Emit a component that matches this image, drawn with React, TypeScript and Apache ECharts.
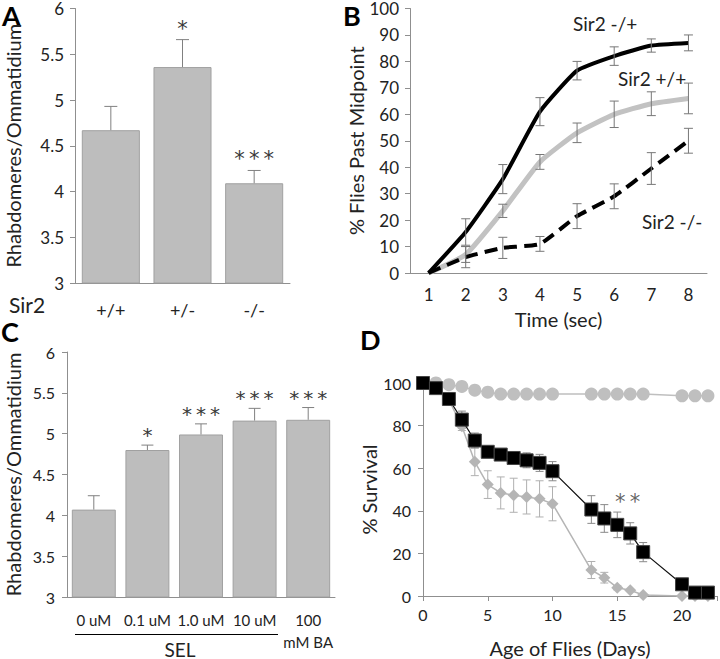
import React, { useEffect, useRef } from "react";
import * as echarts from "echarts";

const FONT = "Lato";
const STAR_FONT = "DejaVu Sans";
const TXT = "#222";
const AXC = "#8f8f8f";

// Panel A
const aCategories = ["+/+", "+/-", "-/-"];
const aValues = [4.67, 5.36, 4.09];
const aUpper = [4.93, 5.66, 4.23];
const aStars = ["", "*", "*\u2009*\u2009*"];

// Panel B
const bTimes = ["1", "2", "3", "4", "5", "6", "7", "8"];
const bHet = [0, 15.5, 35.5, 61, 76.5, 82, 86, 87];
const bHetErr = [0, 5, 5.5, 5.3, 3.5, 3.5, 2.5, 3];
const bWt = [0, 7, 23.5, 42, 53, 60, 64, 66];
const bWtErr = [0, 3, 2.5, 2.8, 3.7, 5, 4.5, 5.8];
const bNull = [0, 6, 9.5, 11, 21.5, 29, 39.5, 50];
const bNullErr = [0, 4, 4, 2.8, 4.7, 4.7, 6, 4.7];

// Panel C
const cCategories = ["0 uM", "0.1 uM", "1.0 uM", "10 uM", "100\nmM BA"];
const cValues = [4.07, 4.8, 4.99, 5.16, 5.17];
const cUpper = [4.24, 4.86, 5.12, 5.31, 5.32];
const cStars = ["", "*", "*\u2009*\u2009*", "*\u2009*\u2009*", "*\u2009*\u2009*"];

// Panel D
const dDays = [0, 1, 2, 3, 4, 5, 6, 7, 8, 9, 10, 13, 14, 15, 16, 17, 20, 21, 22];
const dCircle = [100, 100, 99.2, 98.4, 96.6, 95.7, 94.8, 94.8, 94.8, 94.8, 94.8, 94.8, 94.8, 94.8, 94.8, 94.8, 94, 94, 94];
const dSquare = [100, 97.6, 92.5, 82.8, 73, 67.7, 66.4, 64.8, 63.7, 62.5, 58.6, 40.6, 36.4, 33.4, 29.4, 20.6, 5.5, 1.6, 1.6];
const dSquareErr = [0, 0, 0, 4, 3.5, 2, 2, 3, 3.5, 4, 4.5, 6.5, 6.5, 6, 5, 4.5, 1, 0, 0];
const dDiamond = [100, 98, 92, 79.7, 63, 52.3, 48.4, 47.3, 46.5, 45.6, 43.3, 12.2, 8.6, 3.9, 2.7, 0.5, 0, 0, 0];
const dDiamondErr = [0, 0, 0, 2, 6.5, 6.5, 7.5, 8, 8, 8.5, 8, 4, 2.5, 1, 0, 0, 0, 0, 0];
const dStar = { day: 15.8, value: 44, text: "*\u2009*" };

function errSeries(
  axis: number,
  data: number[][],
  color: string,
  cap: number,
  both: boolean,
  stars: string[] | null,
  starSize: number,
  starGap: number,
  z: number
) {
  return {
    type: "custom",
    xAxisIndex: axis,
    yAxisIndex: axis,
    z,
    silent: true,
    encode: { x: 0, y: [1, 2] },
    data,
    renderItem: (params: any, api: any) => {
      const x = api.value(0);
      const lo = api.value(1);
      const hi = api.value(2);
      const top = api.coord([x, hi]);
      const bot = api.coord([x, lo]);
      const h = cap / 2;
      const children: any[] = [];
      if (hi !== lo) {
        const st = { stroke: color, lineWidth: 1 };
        children.push({ type: "line", shape: { x1: top[0], y1: top[1], x2: bot[0], y2: bot[1] }, style: st });
        children.push({ type: "line", shape: { x1: top[0] - h, y1: top[1], x2: top[0] + h, y2: top[1] }, style: st });
        if (both) {
          children.push({ type: "line", shape: { x1: bot[0] - h, y1: bot[1], x2: bot[0] + h, y2: bot[1] }, style: st });
        }
      }
      const s = stars ? stars[params.dataIndex] : "";
      if (s) {
        children.push({
          type: "text",
          x: top[0],
          y: top[1] - starGap,
          style: {
            text: s,
            fontSize: starSize,
            fontFamily: STAR_FONT,
            fill: "#3a3a3a",
            align: "center",
            verticalAlign: "middle",
          },
        });
      }
      return { type: "group", children };
    },
  };
}

function twoSided(xs: number[], vals: number[], errs: number[]) {
  return xs.map((x, i) => [x, vals[i] - errs[i], vals[i] + errs[i]]);
}

export default function App() {
  const ref = useRef<HTMLDivElement>(null);
  useEffect(() => {
    if (!ref.current) return;
    const chart = echarts.init(ref.current, null, { renderer: "svg" });
    const axisLine = { show: true, lineStyle: { color: AXC, width: 1 } };
    const tick = { show: true, length: 5, lineStyle: { color: AXC } };
    const lbl = (size: number, margin: number, extra: any = {}) => ({
      color: TXT,
      fontFamily: FONT,
      fontSize: size,
      margin,
      ...extra,
    });
    const nameStyle = { color: TXT, fontFamily: FONT, fontSize: 20 };
    const bIdx = bTimes.map((_, i) => i);

    const option: any = {
      animation: false,
      backgroundColor: "#fff",
      grid: [
        { left: 75, top: 6, width: 215, height: 277 },
        { left: 410, top: 7, width: 297, height: 266 },
        { left: 67, top: 352, width: 268, height: 245 },
        { left: 423, top: 383, width: 295, height: 214 },
      ],
      xAxis: [
        {
          gridIndex: 0,
          type: "category",
          data: aCategories,
          axisLine,
          axisTick: { show: false },
          axisLabel: lbl(18, 18, { interval: 0 }),
        },
        {
          gridIndex: 1,
          type: "category",
          data: bTimes,
          boundaryGap: true,
          axisLine,
          axisTick: { show: false },
          axisLabel: lbl(17, 13, { interval: 0 }),
          name: "Time (sec)",
          nameLocation: "middle",
          nameGap: 36,
          nameTextStyle: nameStyle,
        },
        {
          gridIndex: 2,
          type: "category",
          data: cCategories,
          axisLine,
          axisTick: { show: false },
          axisLabel: lbl(15, 12, { interval: 0, lineHeight: 22 }),
        },
        {
          gridIndex: 3,
          type: "value",
          min: 0,
          max: 22.7,
          interval: 5,
          axisLine,
          axisTick: tick,
          splitLine: { show: false },
          axisLabel: lbl(16, 10, {
            formatter: (v: number) => (v % 5 === 0 ? String(v) : ""),
          }),
          name: "Age of Flies (Days)",
          nameLocation: "middle",
          nameGap: 42,
          nameTextStyle: nameStyle,
        },
      ],
      yAxis: [
        {
          gridIndex: 0,
          type: "value",
          min: 3,
          max: 6,
          interval: 0.5,
          axisLine,
          axisTick: tick,
          splitLine: { show: false },
          axisLabel: lbl(17, 11),
          name: "Rhabdomeres/Ommatidium",
          nameLocation: "middle",
          nameGap: 52,
          nameTextStyle: nameStyle,
        },
        {
          gridIndex: 1,
          type: "value",
          min: 0,
          max: 100,
          interval: 10,
          axisLine,
          axisTick: tick,
          splitLine: { show: false },
          axisLabel: lbl(17, 11),
          name: "% Flies Past Midpoint",
          nameLocation: "middle",
          nameGap: 38,
          nameTextStyle: nameStyle,
        },
        {
          gridIndex: 2,
          type: "value",
          min: 3,
          max: 6,
          interval: 0.5,
          axisLine,
          axisTick: tick,
          splitLine: { show: false },
          axisLabel: lbl(16, 12),
          name: "Rhabdomeres/Ommatidium",
          nameLocation: "middle",
          nameGap: 44,
          nameTextStyle: nameStyle,
        },
        {
          gridIndex: 3,
          type: "value",
          min: 0,
          max: 100,
          interval: 20,
          axisLine,
          axisTick: tick,
          splitLine: { show: false },
          axisLabel: lbl(16, 12),
          name: "% Survival",
          nameLocation: "middle",
          nameGap: 40,
          nameTextStyle: nameStyle,
        },
      ],
      series: [
        {
          type: "bar",
          xAxisIndex: 0,
          yAxisIndex: 0,
          data: aValues,
          barCategoryGap: "19%",
          itemStyle: { color: "#bdbdbd", borderColor: "#a0a0a0", borderWidth: 1 },
        },
        errSeries(0, aValues.map((v, i) => [i, v, aUpper[i]]), "#808080", 13, false, aStars, 21, 11, 3),
        {
          type: "line",
          xAxisIndex: 1,
          yAxisIndex: 1,
          data: bWt,
          smooth: 0.15,
          symbol: "none",
          lineStyle: { color: "#c2c2c2", width: 5 },
          z: 2,
        },
        {
          type: "line",
          xAxisIndex: 1,
          yAxisIndex: 1,
          data: bHet,
          smooth: 0.15,
          symbol: "none",
          lineStyle: { color: "#000", width: 4 },
          z: 2,
        },
        {
          type: "line",
          xAxisIndex: 1,
          yAxisIndex: 1,
          data: bNull,
          smooth: 0.15,
          symbol: "none",
          lineStyle: { color: "#000", width: 4, type: [13, 7] },
          z: 2,
        },
        errSeries(1, twoSided(bIdx, bHet, bHetErr), "#777", 9, true, null, 0, 0, 4),
        errSeries(1, twoSided(bIdx, bWt, bWtErr), "#777", 9, true, null, 0, 0, 4),
        errSeries(1, twoSided(bIdx, bNull, bNullErr), "#777", 9, true, null, 0, 0, 4),
        {
          type: "bar",
          xAxisIndex: 2,
          yAxisIndex: 2,
          data: cValues,
          barCategoryGap: "18%",
          itemStyle: { color: "#bdbdbd", borderColor: "#a0a0a0", borderWidth: 1 },
        },
        errSeries(2, cValues.map((v, i) => [i, v, cUpper[i]]), "#808080", 12, false, cStars, 20, 10, 3),
        errSeries(3, twoSided(dDays, dDiamond, dDiamondErr), "#b0b0b0", 8, true, null, 0, 0, 1),
        errSeries(3, twoSided(dDays, dSquare, dSquareErr), "#8a8a8a", 8, true, null, 0, 0, 1),
        {
          type: "line",
          xAxisIndex: 3,
          yAxisIndex: 3,
          data: dDays.map((d, i) => [d, dDiamond[i]]),
          symbol: "diamond",
          symbolSize: 12,
          itemStyle: { color: "#b5b5b5" },
          lineStyle: { color: "#b5b5b5", width: 1.5 },
          z: 2,
        },
        {
          type: "line",
          xAxisIndex: 3,
          yAxisIndex: 3,
          data: dDays.map((d, i) => [d, dCircle[i]]),
          symbol: "circle",
          symbolSize: 13,
          itemStyle: { color: "#bfbfbf" },
          lineStyle: { color: "#bfbfbf", width: 1.5 },
          z: 3,
        },
        {
          type: "line",
          xAxisIndex: 3,
          yAxisIndex: 3,
          data: dDays.map((d, i) => [d, dSquare[i]]),
          symbol: "rect",
          symbolSize: 13,
          itemStyle: { color: "#000", borderColor: "#444", borderWidth: 1 },
          lineStyle: { color: "#111", width: 1.2 },
          z: 4,
        },
        {
          type: "scatter",
          xAxisIndex: 3,
          yAxisIndex: 3,
          data: [[dStar.day, dStar.value]],
          symbolSize: 1,
          itemStyle: { color: "transparent" },
          label: {
            show: true,
            position: "inside",
            formatter: dStar.text,
            fontSize: 21,
            fontFamily: STAR_FONT,
            color: "#3a3a3a",
          },
          z: 5,
        },
      ],
      graphic: [
        { type: "text", x: 2, y: 2, style: { text: "A", fontSize: 27, fontWeight: "bold", fontFamily: FONT, fill: "#000" } },
        { type: "text", x: 343, y: 2, style: { text: "B", fontSize: 27, fontWeight: "bold", fontFamily: FONT, fill: "#000" } },
        { type: "text", x: 1, y: 318, style: { text: "C", fontSize: 27, fontWeight: "bold", fontFamily: FONT, fill: "#000" } },
        { type: "text", x: 360, y: 326, style: { text: "D", fontSize: 27, fontWeight: "bold", fontFamily: FONT, fill: "#000" } },
        { type: "text", x: 9, y: 304, style: { text: "Sir2", fontSize: 21, fontFamily: FONT, fill: TXT, verticalAlign: "middle" } },
        { type: "line", shape: { x1: 75, y1: 634.5, x2: 278, y2: 634.5 }, style: { stroke: "#000", lineWidth: 1 } },
        { type: "text", x: 180, y: 649, style: { text: "SEL", fontSize: 19, fontFamily: FONT, fill: TXT, align: "center", verticalAlign: "middle" } },
        { type: "text", x: 573, y: 23, style: { text: "Sir2 -/+", fontSize: 19, fontFamily: FONT, fill: TXT, verticalAlign: "middle" } },
        { type: "text", x: 618, y: 78, style: { text: "Sir2 +/+", fontSize: 19, fontFamily: FONT, fill: TXT, verticalAlign: "middle" } },
        { type: "text", x: 642, y: 221, style: { text: "Sir2 -/-", fontSize: 19, fontFamily: FONT, fill: TXT, verticalAlign: "middle" } },
      ],
    };
    chart.setOption(option);
    return () => chart.dispose();
  }, []);
  return (
    <div
      ref={ref}
      style={{ position: "absolute", left: 0, top: 0, width: 720, height: 659, background: "#fff" }}
    />
  );
}
